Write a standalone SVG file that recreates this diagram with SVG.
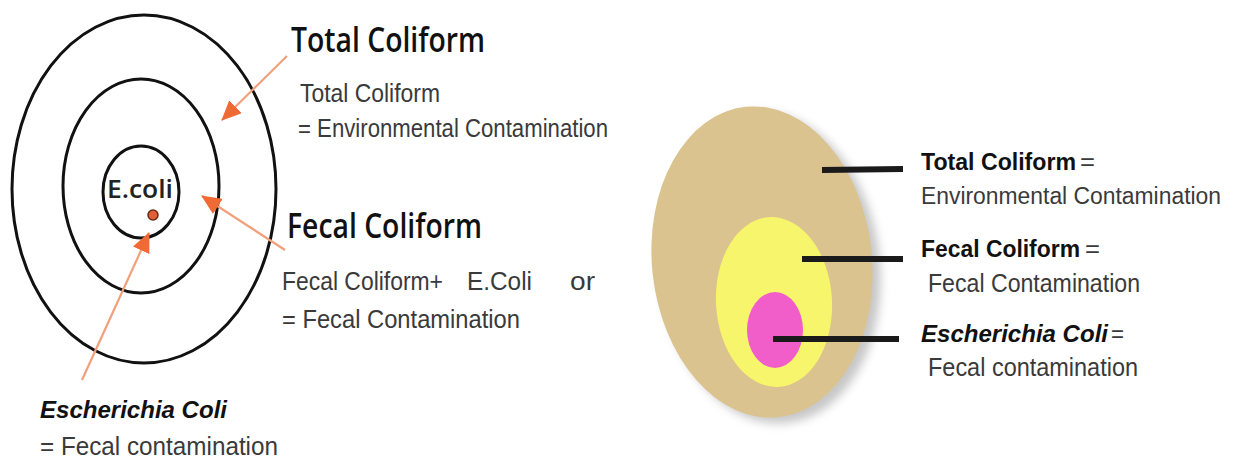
<svg xmlns="http://www.w3.org/2000/svg" width="1234" height="461" viewBox="0 0 1234 461">
<style>
.ring{fill:none;stroke:#111;stroke-width:3}
.arr{stroke:#f2a07c;stroke-width:2.2;fill:none}
.hd{font-family:"Open Sans","Liberation Sans",sans-serif;font-weight:600;fill:#111}
.tx{font-family:"Liberation Sans",Arial,sans-serif;fill:#3a3a3a}
.bd{font-family:"Liberation Sans",Arial,sans-serif;font-weight:bold;fill:#111}
.bi{font-family:"Liberation Sans",Arial,sans-serif;font-weight:bold;font-style:italic;fill:#111}
.bar{stroke:#1a1a1a;stroke-width:6;stroke-linecap:butt}
</style>
<defs>
<marker id="ah" viewBox="0 0 20 18" refX="19" refY="9" markerWidth="20" markerHeight="18" markerUnits="userSpaceOnUse" orient="auto">
<path d="M0,0 L20,9 L0,18 Z" fill="#f06a35"/>
</marker>
<filter id="sh" x="-20%" y="-20%" width="140%" height="140%">
<feGaussianBlur stdDeviation="5"/>
</filter>
</defs>
<rect width="1234" height="461" fill="#fff"/>

<g id="left-rings">
<ellipse class="ring" cx="144" cy="189" rx="132" ry="174"/>
<ellipse class="ring" cx="141" cy="186" rx="78" ry="107"/>
<ellipse class="ring" cx="141" cy="192" rx="38" ry="46" stroke-width="2"/>
<text x="140" y="198" text-anchor="middle" font-family="'Open Sans','Liberation Sans',sans-serif" font-size="25" font-weight="600" fill="#222" textLength="66" lengthAdjust="spacingAndGlyphs">E.coli</text>
<circle cx="153" cy="215" r="5" fill="#e0603a" stroke="#6a2a10" stroke-width="1.5"/>
</g>

<g id="right-egg">
<ellipse cx="770" cy="268" rx="110" ry="156" transform="rotate(-6 770 268)" fill="#9a9a9a" opacity="0.55" filter="url(#sh)"/>
<ellipse cx="762" cy="262" rx="110" ry="156" transform="rotate(-6 762 262)" fill="#dbc38f"/>
<ellipse cx="774" cy="302" rx="58" ry="85" transform="rotate(-3 774 302)" fill="#f7f56c"/>
<ellipse cx="775" cy="330" rx="28" ry="38" fill="#f25ec9"/>
</g>

<g id="connectors">
<line class="arr" x1="287" y1="56" x2="222" y2="120" marker-end="url(#ah)"/>
<line class="arr" x1="285" y1="250" x2="202" y2="196" marker-end="url(#ah)"/>
<line class="arr" x1="82" y1="380" x2="149" y2="233" marker-end="url(#ah)"/>
<line class="bar" x1="822" y1="170" x2="903" y2="169"/>
<line class="bar" x1="802" y1="259" x2="903" y2="259"/>
<line class="bar" x1="773" y1="339" x2="899" y2="339"/>
</g>

<g id="total-coliform-left">
<text class="hd" x="291" y="52" font-size="34" textLength="194" lengthAdjust="spacingAndGlyphs">Total Coliform</text>
<text class="tx" x="300" y="102" font-size="25" textLength="140" lengthAdjust="spacingAndGlyphs">Total Coliform</text>
<text class="tx" x="298" y="137" font-size="25" textLength="310" lengthAdjust="spacingAndGlyphs">= Environmental Contamination</text>
</g>

<g id="fecal-coliform-left">
<text class="hd" x="287" y="238" font-size="34" textLength="195" lengthAdjust="spacingAndGlyphs">Fecal Coliform</text>
<text class="tx" x="282" y="290" font-size="25" textLength="161" lengthAdjust="spacingAndGlyphs">Fecal Coliform+</text>
<text class="tx" x="467" y="290" font-size="25" fill="#222" textLength="65" lengthAdjust="spacingAndGlyphs">E.Coli</text>
<text class="tx" x="570" y="290" font-size="25" fill="#222" textLength="25" lengthAdjust="spacingAndGlyphs">or</text>
<text class="tx" x="282" y="328" font-size="25" textLength="238" lengthAdjust="spacingAndGlyphs">= Fecal Contamination</text>
</g>

<g id="ecoli-left">
<text class="bi" x="40" y="418" font-size="24" textLength="187" lengthAdjust="spacingAndGlyphs">Escherichia  Coli</text>
<text class="tx" x="40" y="455" font-size="25" textLength="238" lengthAdjust="spacingAndGlyphs">= Fecal contamination</text>
</g>

<g id="total-coliform-right">
<text class="bd" x="921" y="170" font-size="23" textLength="155" lengthAdjust="spacingAndGlyphs">Total Coliform</text>
<text class="tx" x="1080" y="170" font-size="23" textLength="15" lengthAdjust="spacingAndGlyphs">=</text>
<text class="tx" x="921" y="204" font-size="23" textLength="300" lengthAdjust="spacingAndGlyphs">Environmental  Contamination</text>
</g>

<g id="fecal-coliform-right">
<text class="bd" x="921" y="257" font-size="23" textLength="159" lengthAdjust="spacingAndGlyphs">Fecal Coliform</text>
<text class="tx" x="1085" y="257" font-size="23" textLength="15" lengthAdjust="spacingAndGlyphs">=</text>
<text class="tx" x="928" y="292" font-size="25" textLength="212" lengthAdjust="spacingAndGlyphs">Fecal Contamination</text>
</g>

<g id="ecoli-right">
<text class="bi" x="921" y="342" font-size="23" textLength="187" lengthAdjust="spacingAndGlyphs">Escherichia  Coli</text>
<text class="tx" x="1111" y="342" font-size="23" textLength="13" lengthAdjust="spacingAndGlyphs">=</text>
<text class="tx" x="928" y="376" font-size="25" textLength="210" lengthAdjust="spacingAndGlyphs">Fecal contamination</text>
</g>
</svg>
